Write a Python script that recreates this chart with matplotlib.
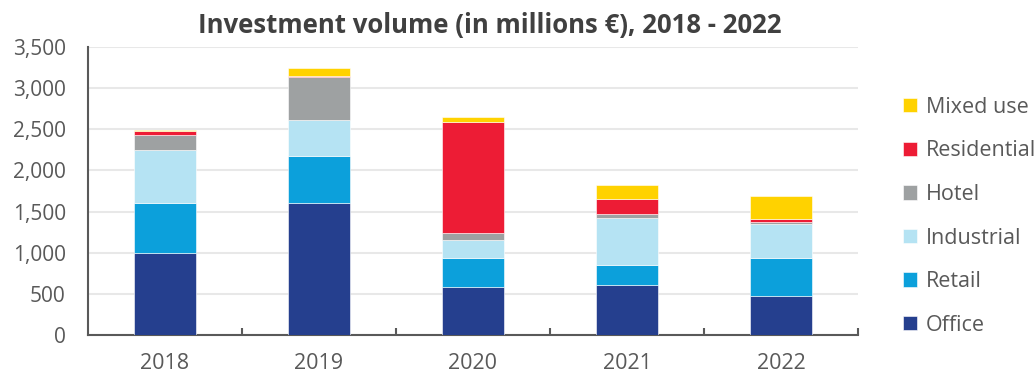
import matplotlib.pyplot as plt
import numpy as np

years = ["2018", "2019", "2020", "2021", "2022"]
office = [1000, 1600, 580, 610, 470]
retail = [600, 570, 360, 235, 460]
industrial = [650, 445, 210, 580, 415]
hotel = [180, 515, 85, 50, 30]
residential = [50, 20, 1350, 180, 30]
mixed_use = [15, 95, 70, 165, 290]

series = [
    ("Office", office, "#253F8E"),
    ("Retail", retail, "#0CA0DB"),
    ("Industrial", industrial, "#B5E3F3"),
    ("Hotel", hotel, "#9EA1A2"),
    ("Residential", residential, "#ED1C35"),
    ("Mixed use", mixed_use, "#FFD200"),
]

plt.rcParams["font.family"] = ["Open Sans", "DejaVu Sans"]

fig = plt.figure(figsize=(10.35, 3.76), dpi=100)
ax = fig.add_axes([0.085, 0.109, 0.744, 0.766])

x = np.arange(len(years))
bottom = np.zeros(len(years))
handles = []
for name, vals, col in series:
    b = ax.bar(x, vals, 0.4, bottom=bottom, color=col, label=name,
               edgecolor="white", linewidth=0.4, zorder=3)
    handles.append(b)
    bottom += np.array(vals)

ax.set_xlim(-0.5, 4.5)
ax.set_ylim(0, 3500)
ax.set_yticks(range(0, 3501, 500))
ax.set_yticklabels([f"{v:,}" for v in range(0, 3501, 500)])
ax.set_xticks(x)
ax.set_xticklabels(years)
ax.set_xticks(np.arange(0.5, 4.6, 1), minor=True)
ax.tick_params(axis="x", which="major", length=0, pad=13, labelsize=15.5, labelcolor="#595959")
ax.tick_params(axis="x", which="minor", direction="in", length=5, color="#595959", width=1.5)
ax.tick_params(axis="y", length=0, pad=16, labelsize=15, labelcolor="#595959")

ax.grid(axis="y", color="#E8E8E8", linewidth=1.5, zorder=0)
for s in ["top", "right"]:
    ax.spines[s].set_visible(False)
for s in ["left", "bottom"]:
    ax.spines[s].set_color("#595959")
    ax.spines[s].set_linewidth(1.5)

fig.text(0.473, 0.932, "Investment volume (in millions €), 2018 - 2022",
         ha="center", va="center", fontsize=18.5, fontweight="bold", color="#404040")

leg = fig.legend(handles[::-1], [s[0] for s in series][::-1], loc="center left",
                 bbox_to_anchor=(0.872, 0.425), frameon=False, fontsize=15.5,
                 handlelength=0.65, handleheight=0.65, handletextpad=0.45,
                 labelspacing=1.05, borderaxespad=0, borderpad=0)
for t in leg.get_texts():
    t.set_color("#595959")

fig.savefig("out.png", dpi=100)
